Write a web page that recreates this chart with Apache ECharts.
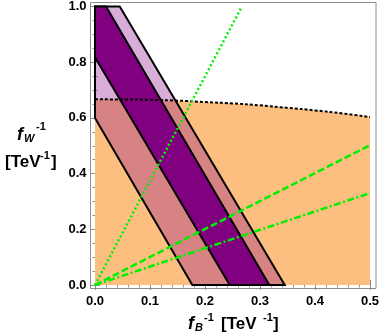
<!DOCTYPE html>
<html>
<head>
<meta charset="utf-8">
<script src="https://cdn.jsdelivr.net/npm/echarts@6/dist/echarts.min.js"></script>
<style>
  html, body { margin: 0; padding: 0; background: #fff; }
  #chart { width: 382px; height: 336px; }
</style>
</head>
<body>
<div id="chart"></div>
<script>
// upper boundary of the orange region (dotted black curve)
const curveX = [0, 0.05, 0.1, 0.15, 0.2, 0.25, 0.3, 0.35, 0.4, 0.45, 0.5]
const curveY = [0.667, 0.666, 0.665, 0.662, 0.657, 0.652, 0.645, 0.636, 0.627, 0.616, 0.603]

// slanted bands, vertices [fB^-1, fW^-1]
const outerBand = [[0, 0.6], [0, 1], [0.045, 1], [0.345, 0], [0.177, 0]]
const innerBand = [[0, 0.818], [0, 1], [0.02, 1], [0.317, 0], [0.245, 0]]

// green lines from origin
const dottedLine = [[0, 0], [0.267, 1]]
const dashedLine = [[0, 0], [0.5, 0.502]]
const dashDotLine = [[0, 0], [0.5, 0.33]]

const xTicks = [0, 0.1, 0.2, 0.3, 0.4, 0.5]
const yTicks = [0, 0.2, 0.4, 0.6, 0.8, 1.0]

const FONT = '"Liberation Sans", Arial, sans-serif'
const frameColor = '#8c8c8c'

const chart = echarts.init(document.getElementById('chart'))

function bandSeries(pts, fill, z) {
  return {
    type: 'custom',
    z: z,
    clip: false,
    silent: true,
    data: pts,
    renderItem: (params, api) => {
      if (params.dataIndex !== 0) return null
      return {
        type: 'polygon',
        shape: { points: pts.map(p => api.coord(p)) },
        style: { fill: fill, stroke: '#000', lineWidth: 2 }
      }
    }
  }
}

function greenLine(data, dash) {
  return {
    type: 'line',
    z: 6,
    data: data,
    symbol: 'none',
    silent: true,
    lineStyle: { color: '#00f000', width: 2.5, type: dash, cap: 'butt' }
  }
}

function axisBase(pos, min, max, interval, split, offset, labels) {
  return {
    type: 'value',
    position: pos,
    min: min,
    max: max,
    interval: interval,
    offset: offset,
    axisLine: { show: false },
    splitLine: { show: false },
    axisTick: { show: true, inside: true, length: 5, lineStyle: { color: frameColor, width: 1 } },
    minorTick: { show: true, splitNumber: split, length: 2.5, lineStyle: { color: frameColor, width: 1 } },
    minorSplitLine: { show: false },
    axisLabel: {
      show: labels,
      color: '#000',
      fontFamily: FONT,
      fontWeight: 'bold',
      fontSize: 13,
      margin: pos === 'bottom' ? 6 : 4,
      formatter: v => v.toFixed(1)
    }
  }
}

// axis titles built from small text pieces (sub/superscripts)
function txt(str, x, y, size, italic) {
  return {
    type: 'text',
    x: 0, y: 0,
    silent: true,
    style: {
      text: str,
      x: x,
      y: y,
      fill: '#000',
      font: (italic ? 'italic ' : '') + 'bold ' + size + 'px ' + FONT,
      align: 'left',
      verticalAlign: 'middle',
      textAlign: 'left',
      textVerticalAlign: 'middle'
    }
  }
}

const option = {
  animation: false,
  backgroundColor: '#fff',
  grid: { left: 95, right: 9, top: 6, bottom: 51 },
  xAxis: [
    axisBase('bottom', xTicks[0], xTicks[xTicks.length - 1], 0.1, 5, 4, true),
    axisBase('top', xTicks[0], xTicks[xTicks.length - 1], 0.1, 5, 3.5, false)
  ],
  yAxis: [
    axisBase('left', yTicks[0], yTicks[yTicks.length - 1], 0.2, 4, 4.5, true),
    axisBase('right', yTicks[0], yTicks[yTicks.length - 1], 0.2, 4, 3, false)
  ],
  graphic: [
    {
      type: 'rect',
      silent: true,
      z: 10,
      shape: { x: 90.5, y: 2.5, width: 285.5, height: 286 },
      style: { fill: 'none', stroke: frameColor, lineWidth: 1 }
    },
    txt('f', 17, 135, 18, true),
    txt('W', 24, 139, 11, true),
    txt('-1', 36, 127, 11, false),
    txt('[TeV', 5, 162, 17, false),
    txt('-1', 40, 156, 11, false),
    txt(']', 51, 162, 17, false),
    txt('f', 188, 324, 18, true),
    txt('B', 195, 328, 11, true),
    txt('-1', 204, 318, 11, false),
    txt('[TeV', 221, 324, 17, false),
    txt('-1', 263, 318, 11, false),
    txt(']', 273, 324, 17, false)
  ],
  series: [
    {
      type: 'line',
      z: 1,
      data: curveX.map((x, i) => [x, curveY[i]]),
      symbol: 'none',
      silent: true,
      lineStyle: { width: 0 },
      areaStyle: { color: '#fdbf80', opacity: 1, origin: 'start' }
    },
    bandSeries(outerBand, 'rgba(142, 14, 142, 0.34)', 2),
    bandSeries(innerBand, '#800080', 3),
    {
      type: 'line',
      z: 5,
      data: curveX.map((x, i) => [x, curveY[i]]),
      symbol: 'none',
      silent: true,
      smooth: true,
      lineStyle: { color: '#000', width: 2, type: [3, 2] }
    },
    greenLine(dottedLine, [2, 2.5]),
    greenLine(dashedLine, [7, 3]),
    greenLine(dashDotLine, [7, 2.5, 2, 2.5])
  ]
}

chart.setOption(option)
</script>
</body>
</html>
